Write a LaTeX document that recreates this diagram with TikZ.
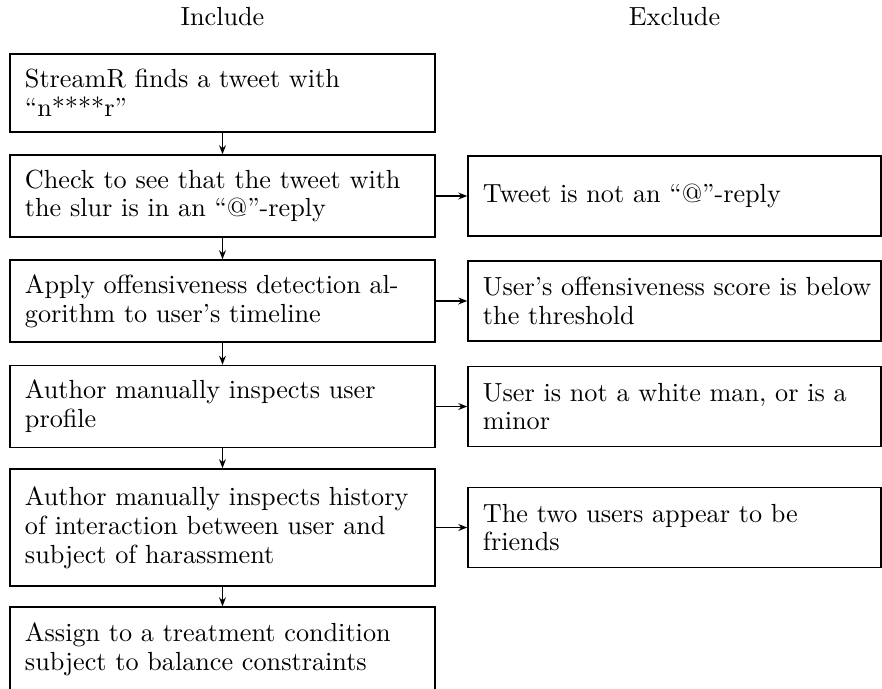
\documentclass[tikz,border=0pt]{standalone}
\usetikzlibrary{arrows.meta}

\begin{document}
\begin{tikzpicture}[
    x=0.3817pt, y=-0.3817pt,
    font=\fontsize{10}{11}\selectfont,
    stage/.style={draw, rectangle, line width=0.6pt, minimum width=162.2pt, minimum height=31.3pt, text width=150.8pt, inner xsep=5.7pt, align=left},
    reason/.style={stage, minimum width=157.6pt, minimum height=30.5pt, text width=146.2pt},
    arrow/.style={-{Stealth[length=3.4pt, width=2.6pt]}, line width=0.6pt}
]
    \useasboundingbox (0,0) rectangle (882,688);

    \node[anchor=base] (inc) at (222.5, 25) {Include};
    \node[anchor=base] (exc) at (674.5, 25) {Exclude};

    \node[stage, minimum height=29.8pt] (b1) at (222.5, 93) {StreamR finds a tweet with\\“n****r”};
    \node[stage] (b2) at (222.5, 196) {Check to see that the tweet with\\the slur is in an “@”-reply};
    \node[stage] (b3) at (222.5, 301) {Apply offensiveness detection al-\\gorithm to user’s timeline};
    \node[stage] (b4) at (222.5, 406.5) {Author manually inspects user\\profile};
    \node[stage, minimum height=44.7pt] (b5) at (222.5, 527.5) {Author manually inspects history\\of interaction between user and\\subject of harassment};
    \node[stage, minimum height=32pt] (b6) at (222.5, 649) {Assign to a treatment condition\\subject to balance constraints};

    \node[reason] (r1) at (674.5, 196) {Tweet is not an “@”-reply};
    \node[reason] (r2) at (674.5, 301) {\mbox{User’s offensiveness score is below}\\the threshold};
    \node[reason] (r3) at (674.5, 406.5) {User is not a white man, or is a\\minor};
    \node[reason] (r4) at (674.5, 527.5) {The two users appear to be\\friends};

    \draw[arrow] (b1) -- (b2);
    \draw[arrow] (b2) -- (b3);
    \draw[arrow] (b3) -- (b4);
    \draw[arrow] (b4) -- (b5);
    \draw[arrow] (b5) -- (b6);

    \draw[arrow] (b2) -- (r1);
    \draw[arrow] (b3) -- (r2);
    \draw[arrow] (b4) -- (r3);
    \draw[arrow] (b5) -- (r4);
\end{tikzpicture}
\end{document}
